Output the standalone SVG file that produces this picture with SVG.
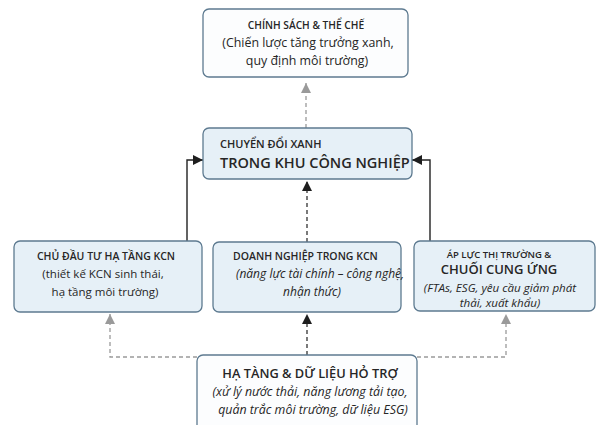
<svg xmlns="http://www.w3.org/2000/svg" width="601" height="425" viewBox="0 0 601 425">
<defs>
<style>
.box{stroke:#5d7a90;stroke-width:1.3}
.lt{fill:#fcfdfe}
.bl{fill:#e6f0f7}
text{font-family:"Open Sans","Noto Sans","DejaVu Sans",sans-serif;fill:#262626}
.t{font-weight:600}
.c{text-anchor:middle}
.i{font-style:italic}
.sd{stroke:#222;stroke-width:1.4;fill:none}
.dd{stroke:#333;stroke-width:1.3;fill:none;stroke-dasharray:4 3}
.gd{stroke:#9a9a9a;stroke-width:1.3;fill:none;stroke-dasharray:4 3}
</style>
<marker id="ab" viewBox="0 0 10 10" refX="10" refY="5" markerWidth="10" markerHeight="10" markerUnits="userSpaceOnUse" orient="auto"><path d="M0,0 L10,5 L0,10 z" fill="#1e1e1e"/></marker>
<marker id="ag" viewBox="0 0 10 10" refX="10" refY="5" markerWidth="10" markerHeight="10" markerUnits="userSpaceOnUse" orient="auto"><path d="M0,0 L10,5 L0,10 z" fill="#9a9a9a"/></marker>
</defs>
<rect width="601" height="425" fill="#ffffff"/>
<g id="connectors">
<path class="gd" d="M306,128 V83" marker-end="url(#ag)"/>
<path class="sd" d="M187,241 V160 H203" marker-end="url(#ab)"/>
<path class="sd" d="M430,241 V160 H412" marker-end="url(#ab)"/>
<path class="dd" d="M307,242 V181" marker-end="url(#ab)"/>
<path class="gd" d="M197,357 H110 V314" marker-end="url(#ag)"/>
<path class="gd" d="M417,357 H506 V314" marker-end="url(#ag)"/>
<path class="dd" d="M307,355 V314" marker-end="url(#ab)"/>
</g>
<g id="policy">
<rect class="box lt" x="203" y="9" width="205" height="68" rx="6"/>
<text class="t c" x="306" y="29" font-size="10.2">CHÍNH SÁCH &amp; THỂ CHẾ</text>
<text class="c" x="308" y="47" font-size="12.4">(Chiến lược tăng trưởng xanh,</text>
<text class="c" x="307" y="65" font-size="12.4">quy định môi trường)</text>
</g>
<g id="green-transition">
<rect class="box bl" x="203" y="128" width="209" height="51" rx="6" stroke-width="1.6"/>
<text class="t" x="220" y="148" font-size="11">CHUYỂN ĐỔI XANH</text>
<text class="t" x="220" y="168" font-size="14.5">TRONG KHU CÔNG NGHIỆP</text>
</g>
<g id="investor">
<rect class="box bl" x="14" y="241" width="188" height="71" rx="6"/>
<text class="t c" x="106" y="260" font-size="10.5">CHỦ ĐẦU TƯ HẠ TẦNG KCN</text>
<text class="c" x="103" y="278" font-size="11.5">(thiết kế KCN sinh thái,</text>
<text class="c" x="105" y="296" font-size="11.5">hạ tầng môi trường)</text>
</g>
<g id="enterprise">
<rect class="box bl" x="213" y="242" width="188" height="70" rx="6"/>
<text class="t" x="233" y="260" font-size="10.5">DOANH NGHIỆP TRONG KCN</text>
<text class="i" x="236" y="278" font-size="12">(năng lực tài chính – công nghệ,</text>
<text class="i c" x="312" y="296" font-size="12">nhận thức)</text>
</g>
<g id="market">
<rect class="box bl" x="414" y="241" width="181" height="70" rx="6"/>
<text class="t c" x="499" y="258" font-size="9.5">ÁP LỰC THỊ TRƯỜNG &amp;</text>
<text class="t c" x="499" y="274" font-size="13">CHUỐI CUNG ỨNG</text>
<text class="i c" x="500" y="292" font-size="11.6">(FTAs, ESG, yêu cầu giảm phát</text>
<text class="i c" x="500" y="307" font-size="11.6">thải, xuất khẩu)</text>
</g>
<g id="infrastructure">
<rect class="box lt" x="197" y="355" width="220" height="80" rx="6"/>
<text class="t c" x="310" y="378" font-size="12.8">HẠ TÀNG &amp; DỮ LIỆU HỎ TRỢ</text>
<text class="i c" x="310" y="396" font-size="12.4">(xử lý nước thải, năng lương tải tạo,</text>
<text class="i c" x="313" y="414" font-size="12.4">quản trắc môi trường, dữ liệu ESG)</text>
</g>
</svg>
